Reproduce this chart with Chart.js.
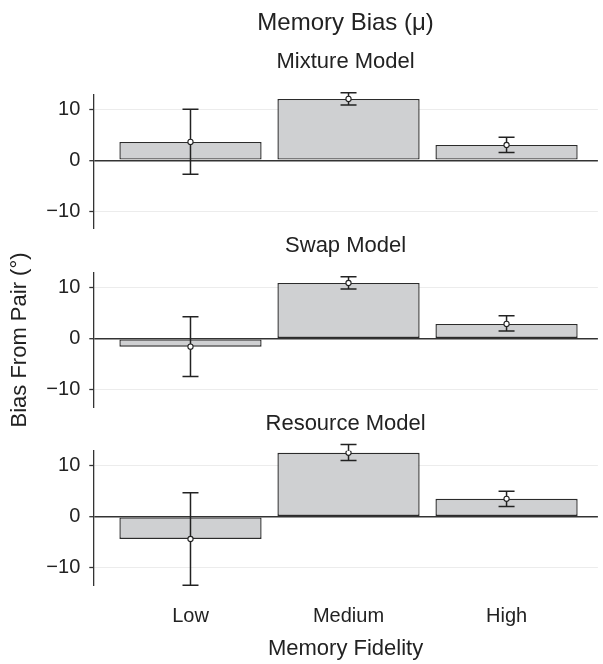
<!DOCTYPE html>
<html>
<head>
<meta charset="utf-8">
<title>Memory Bias</title>
<script src="https://cdn.jsdelivr.net/npm/chart.js@4.4.0/dist/chart.umd.min.js"></script>
<style>
  body { margin: 0; background: #fff; }
  #wrap { position: relative; width: 603px; height: 664px; }
  #wrap canvas { position: absolute; left: 0; }
</style>
</head>
<body>
<div id="wrap">
  <canvas id="mixture" width="603" height="236" style="top:0"></canvas>
  <canvas id="swap" width="603" height="220" style="top:220px"></canvas>
  <canvas id="resource" width="603" height="266" style="top:398px"></canvas>
</div>
<script>
// values (degrees)
const categories = ['Low', 'Medium', 'High'];
const yTicks = [-10, 0, 10];

const mixtureMeans = [3.6, 12.0, 3.0];
const mixtureLower = [-2.7, 10.8, 1.55];
const mixtureUpper = [10.0, 13.2, 4.5];

const swapMeans = [-1.55, 10.9, 2.9];
const swapLower = [-7.4, 9.7, 1.5];
const swapUpper = [4.3, 12.1, 4.5];

const resourceMeans = [-4.35, 12.5, 3.5];
const resourceLower = [-13.4, 11.0, 2.0];
const resourceUpper = [4.7, 14.1, 5.0];

// axis ranges
const Y_MIN = -13.4, Y_MAX = 12.9;
const X_MIN = -0.615, X_MAX = 2.578;

const FONT = "'Liberation Sans', Arial, sans-serif";
const INK = '#222';

// draws the whiskers right after the bars, so the mean points sit on top
const errorBars = {
    id: 'errorBars',
    afterDatasetDraw(chart, args, opts) {
        if (args.meta.type !== 'bar') return;
        const ctx = chart.ctx;
        const x = chart.scales.x, y = chart.scales.y;
        ctx.save();
        ctx.strokeStyle = opts.color;
        ctx.lineWidth = opts.width;
        opts.lower.forEach((lo, i) => {
            const px = x.getPixelForValue(i);
            const top = y.getPixelForValue(opts.upper[i]);
            const bot = y.getPixelForValue(lo);
            ctx.beginPath();
            ctx.moveTo(px, top); ctx.lineTo(px, bot);
            ctx.moveTo(px - opts.cap, top); ctx.lineTo(px + opts.cap, top);
            ctx.moveTo(px - opts.cap, bot); ctx.lineTo(px + opts.cap, bot);
            ctx.stroke();
        });
        ctx.restore();
    }
};

function makePanel(id, p) {
    const points = p.means.map((m, i) => ({ x: i, y: m }));
    return new Chart(document.getElementById(id), {
        type: 'bar',
        data: {
            datasets: [{
                type: 'bar',
                data: points,
                backgroundColor: '#cfd0d2',
                borderColor: '#2b2b2b',
                borderWidth: 1.4,
                borderSkipped: false,
                categoryPercentage: 0.9,
                barPercentage: 1.0,
                order: 2
            }, {
                type: 'scatter',
                data: points,
                pointRadius: 2.6,
                pointBackgroundColor: '#fff',
                pointBorderColor: '#222',
                pointBorderWidth: 1.1,
                order: 1
            }]
        },
        options: {
            responsive: false,
            animation: false,
            layout: { padding: { left: 0, right: 0, top: 0, bottom: p.bottomPad } },
            plugins: {
                legend: { display: false },
                tooltip: { enabled: false },
                title: {
                    display: true,
                    fullSize: false,
                    text: p.title,
                    color: INK,
                    font: { family: FONT, size: p.titleSize, weight: 'normal' },
                    padding: p.titlePad
                },
                subtitle: {
                    display: !!p.subtitle,
                    fullSize: false,
                    text: p.subtitle || '',
                    color: INK,
                    font: { family: FONT, size: 22, weight: 'normal' },
                    padding: p.subtitlePad || 0
                },
                errorBars: { lower: p.lower, upper: p.upper, cap: 8, width: 1.5, color: '#222' }
            },
            scales: {
                x: {
                    type: 'linear',
                    min: X_MIN,
                    max: X_MAX,
                    offset: false,
                    display: p.showX,
                    grid: { display: false, drawTicks: false, offset: false },
                    border: { display: false },
                    afterBuildTicks: s => { s.ticks = categories.map((c, i) => ({ value: i })); },
                    ticks: {
                        callback: v => categories[v],
                        color: INK,
                        font: { family: FONT, size: 20 },
                        padding: 19,
                        maxRotation: 0,
                        autoSkip: false
                    },
                    title: {
                        display: p.showX,
                        text: 'Memory Fidelity',
                        color: INK,
                        font: { family: FONT, size: 22 },
                        padding: { top: 0, bottom: 2 }
                    },
                    afterFit: s => {
                        if (p.showX) s.height = 78.7;
                        s.paddingLeft = 0;
                        s.paddingRight = 0;
                    }
                },
                y: {
                    min: Y_MIN,
                    max: Y_MAX,
                    afterBuildTicks: s => { s.ticks = yTicks.map(v => ({ value: v })); },
                    grid: {
                        color: c => (c.tick && c.tick.value === 0) ? '#333' : '#ececec',
                        lineWidth: c => (c.tick && c.tick.value === 0) ? 1.4 : 1,
                        tickColor: '#333',
                        tickLength: 4,
                        tickWidth: 1.3
                    },
                    border: { color: '#333', width: 1.3 },
                    ticks: {
                        callback: v => v < 0 ? '\u2212' + Math.abs(v) : String(v),
                        color: INK,
                        font: { family: FONT, size: 20 },
                        padding: 9
                    },
                    title: {
                        display: !!p.yTitle,
                        text: p.yTitle || '',
                        color: INK,
                        font: { family: FONT, size: 22 },
                        padding: { top: 7, bottom: 0 }
                    },
                    afterFit: s => {
                        s.width = 93.3;
                        s.paddingTop = 0;
                        s.paddingBottom = 0;
                    }
                }
            }
        },
        plugins: [errorBars]
    });
}

makePanel('mixture', {
    title: 'Memory Bias (\u03bc)', titleSize: 24,
    titlePad: { top: 8.6, bottom: 0 },
    subtitle: 'Mixture Model',
    subtitlePad: { top: 11.4, bottom: 19.1 },
    means: mixtureMeans, lower: mixtureLower, upper: mixtureUpper,
    showX: false, bottomPad: 7.1
});

makePanel('swap', {
    title: 'Swap Model', titleSize: 22,
    titlePad: { top: 12.8, bottom: 13.5 },
    means: swapMeans, lower: swapLower, upper: swapUpper,
    showX: false, bottomPad: 32.7,
    yTitle: 'Bias From Pair (\u00b0)'
});

makePanel('resource', {
    title: 'Resource Model', titleSize: 22,
    titlePad: { top: 12.8, bottom: 13.5 },
    means: resourceMeans, lower: resourceLower, upper: resourceUpper,
    showX: true, bottomPad: 0
});
</script>
</body>
</html>
